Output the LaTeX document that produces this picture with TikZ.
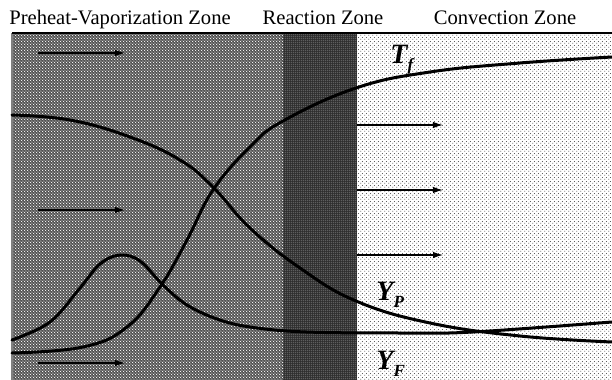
\documentclass[tikz,border=0pt]{standalone}
\usepackage{fontspec}
\setmainfont{Liberation Serif}
\usetikzlibrary{arrows.meta,patterns.meta}

% halftone textures of the three zones
\tikzdeclarepattern{
  name=pvdots, type=uncolored,
  bounding box={(0pt,0pt) and (1.6pt,1.6pt)},
  tile size={(1.6pt,1.6pt)},
  code={\fill (0.4pt,0.4pt) circle (0.36pt); \fill (1.2pt,1.2pt) circle (0.36pt);}
}
\tikzdeclarepattern{
  name=rzdots, type=uncolored,
  bounding box={(0pt,0pt) and (1.1pt,1.1pt)},
  tile size={(1.1pt,1.1pt)},
  code={\fill (0.55pt,0.55pt) circle (0.22pt);}
}
\tikzdeclarepattern{
  name=cvdots, type=uncolored,
  bounding box={(0pt,0pt) and (2pt,2pt)},
  tile size={(2pt,2pt)},
  code={\fill (0.5pt,0.5pt) circle (0.3pt); \fill (1.5pt,1.5pt) circle (0.3pt);}
}

\newcommand{\profilelabel}[2]{#1\raisebox{-3.5pt}{\fontsize{8.5}{9}\selectfont #2}}

\tikzset{
  profile/.style={line width=1.5pt, line cap=round},
  flow/.style={line width=0.6pt, -{Latex[length=5pt,width=3.2pt]}},
  zonetitle/.style={font=\fontsize{10.3}{12}\selectfont, anchor=base, inner sep=0pt},
  curvelabel/.style={font=\fontsize{14}{14}\selectfont\bfseries\itshape, anchor=base west, inner sep=0pt}
}

\begin{document}
\begin{tikzpicture}[x=0.5pt,y=-0.5pt]
  \useasboundingbox (0,0) rectangle (612,380);
  \clip (0,0) rectangle (612,380);

  % zones
  \fill[white] (0,0) rectangle (612,380);
  \fill[black!68] (12,33) rectangle (283,380);
  \fill[pattern=pvdots, pattern color=white] (12,33) rectangle (283,380);
  \fill[black!82] (283,33) rectangle (357,380);
  \fill[pattern=rzdots, pattern color=white] (283,33) rectangle (357,380);
  \fill[pattern=cvdots, pattern color=black!85] (357,33) rectangle (612,380);
  \draw[gray, line width=0.6pt] (12,380) -- (12,33);
  \draw[line width=1.4pt] (12,33) -- (612,33);

  % titles
  \node[zonetitle] (pvz) at (120,25) {Preheat-Vaporization Zone};
  \node[zonetitle] (rz) at (323,25) {Reaction Zone};
  \node[zonetitle] (cz) at (505,25) {Convection Zone};

  % flow arrows
  \foreach \y in {53,210,363}
    \draw[flow] (38,\y) -- ++(87,0);
  \foreach \y in {125,190,255}
    \draw[flow] (357,\y) -- ++(86,0);

  % profiles
  \draw[profile] plot[smooth, tension=0.7] coordinates {(12,115) (70,120) (130,137) (180,160) (213,187) (250,228) (300,268) (356,301) (430,323) (520,336) (612,342)};
  \draw[profile] plot[smooth, tension=0.7] coordinates {(12,353) (83,347) (127,327) (160,287) (187,240) (213,190) (250,147) (283,121) (356,88) (430,72) (520,63) (612,57)};
  \draw[profile] plot[smooth, tension=0.6] coordinates {(12,340) (50,322) (80,288) (100,264) (120,255) (140,261) (163,285) (187,305) (217,319) (250,327) (306,332) (406,333) (473,332) (612,322)};

  % labels
  \node[curvelabel] (tf) at (390,63) {\profilelabel{T}{f}};
  \node[curvelabel] (yp) at (376,300) {\profilelabel{Y}{P}};
  \node[curvelabel] (yf) at (376,369) {\profilelabel{Y}{F}};
\end{tikzpicture}
\end{document}
